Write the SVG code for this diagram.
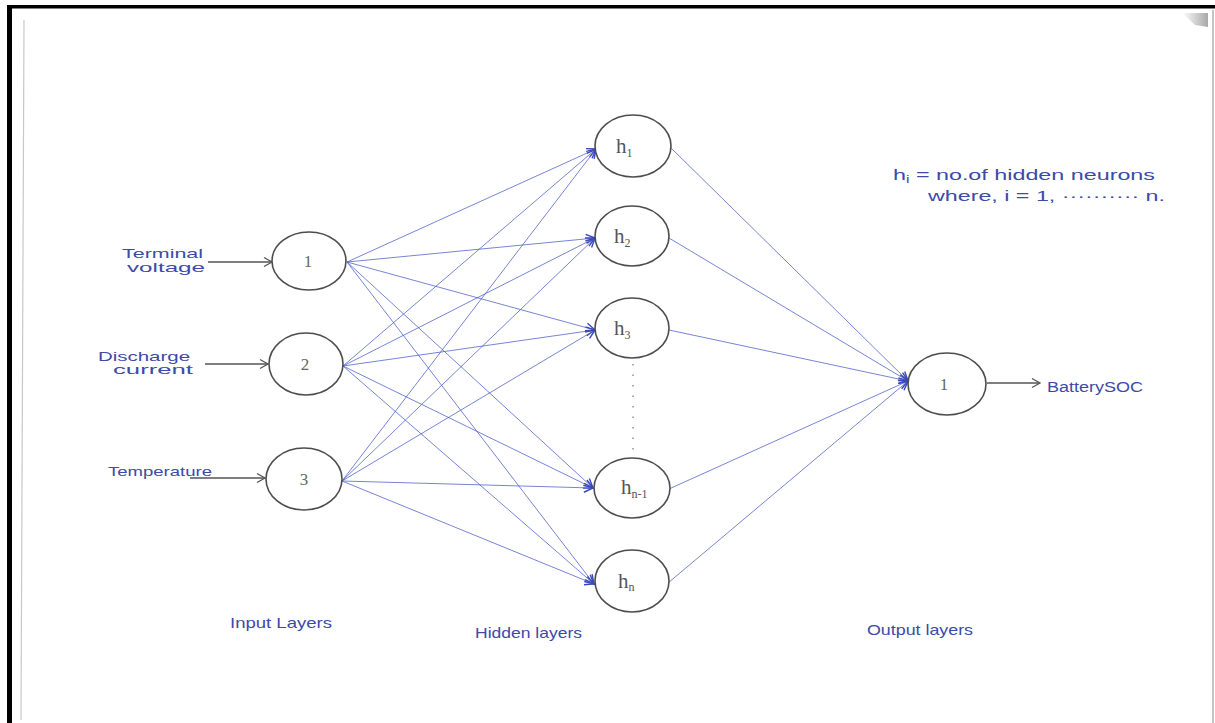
<svg xmlns="http://www.w3.org/2000/svg" width="1215" height="723" viewBox="0 0 1215 723">
  <defs>
    <style>
      .node { fill: #ffffff; stroke: #4d4d4d; stroke-width: 1.6; }
      .num { font-family: "Liberation Serif", serif; font-size: 17px; fill: #666; text-anchor: middle; }
      .hl { font-family: "Liberation Serif", serif; font-size: 21px; fill: #555; }
      .sub { font-size: 12px; }
      .hand { font-family: "Liberation Sans", sans-serif; fill: #3c4aa8; }
      .wire { stroke: #4a5cc4; stroke-width: 1; fill: none; stroke-opacity: 0.75; marker-end: url(#blueHead); }
      .feed { stroke: #555; stroke-width: 1.3; fill: none; marker-end: url(#grayHead); }
    </style>
    <marker id="blueHead" markerUnits="userSpaceOnUse" markerWidth="12" markerHeight="12" refX="10" refY="5" orient="auto" overflow="visible">
      <path d="M1,0.5 L10,5 L1,9.5" fill="none" stroke="#3a48b8" stroke-width="1.4"/>
    </marker>
    <marker id="grayHead" markerUnits="userSpaceOnUse" markerWidth="12" markerHeight="12" refX="10" refY="5" orient="auto" overflow="visible">
      <path d="M2,0.5 L10,5 L2,9.5" fill="none" stroke="#555" stroke-width="1.3"/>
    </marker>
    <linearGradient id="cornerShade" x1="0" y1="0" x2="1" y2="0">
      <stop offset="0" stop-color="#fff"/>
      <stop offset="1" stop-color="#a8a8a8"/>
    </linearGradient>
  </defs>

  <!-- page and frame -->
  <rect x="0" y="0" width="1215" height="723" fill="#ffffff"/>
  <rect x="7" y="5" width="1208" height="3.5" fill="#000"/>
  <rect x="7" y="5" width="5" height="718" fill="#000"/>
  <line x1="24" y1="20" x2="21" y2="720" stroke="#c8c8c8" stroke-width="1.2"/>
  <line x1="1213" y1="10" x2="1213" y2="723" stroke="#9a9a9a" stroke-width="1.2"/>
  <polygon points="1182,13 1208,13 1208,27 1195,25" fill="url(#cornerShade)"/>

  <!-- connectors -->
  <g id="connectors">
    <!-- inputs into input nodes -->
    <line class="feed" x1="208" y1="262" x2="272" y2="262"/>
    <line class="feed" x1="205" y1="364" x2="268" y2="364"/>
    <line class="feed" x1="190" y1="478" x2="265" y2="478"/>

    <!-- input node 1 to hidden -->
    <line class="wire" x1="347" y1="262" x2="596" y2="149"/>
    <line class="wire" x1="347" y1="262" x2="595" y2="238"/>
    <line class="wire" x1="347" y1="262" x2="595" y2="330"/>
    <line class="wire" x1="347" y1="262" x2="593" y2="488"/>
    <line class="wire" x1="347" y1="262" x2="594" y2="584"/>
    <!-- input node 2 to hidden -->
    <line class="wire" x1="343" y1="366" x2="596" y2="149"/>
    <line class="wire" x1="343" y1="366" x2="595" y2="238"/>
    <line class="wire" x1="343" y1="366" x2="595" y2="330"/>
    <line class="wire" x1="343" y1="366" x2="593" y2="488"/>
    <line class="wire" x1="343" y1="366" x2="594" y2="584"/>
    <!-- input node 3 to hidden -->
    <line class="wire" x1="342" y1="481" x2="596" y2="149"/>
    <line class="wire" x1="342" y1="481" x2="595" y2="238"/>
    <line class="wire" x1="342" y1="481" x2="595" y2="330"/>
    <line class="wire" x1="342" y1="481" x2="593" y2="488"/>
    <line class="wire" x1="342" y1="481" x2="594" y2="584"/>

    <!-- hidden to output -->
    <line class="wire" x1="670" y1="147" x2="908" y2="381" stroke-opacity="0.95"/>
    <line class="wire" x1="669" y1="238" x2="908" y2="381" stroke-opacity="0.3"/>
    <line class="wire" x1="669" y1="330" x2="908" y2="381" stroke-opacity="0.6"/>
    <line class="wire" x1="669" y1="489" x2="908" y2="381" stroke-opacity="0.6"/>
    <line class="wire" x1="668" y1="583" x2="908" y2="381" stroke-opacity="0.6"/>

    <!-- output -->
    <line class="feed" x1="987" y1="383" x2="1040" y2="383"/>

    <!-- ellipsis between h3 and h(n-1) -->
    <line x1="633" y1="364" x2="633" y2="452" stroke="#777" stroke-width="1.2" stroke-dasharray="1.5 9"/>
  </g>

  <!-- input layer -->
  <g id="input-1">
    <ellipse class="node" cx="309" cy="261" rx="37" ry="29"/>
    <text class="num" x="308" y="267">1</text>
  </g>
  <g id="input-2">
    <ellipse class="node" cx="306" cy="364" rx="37" ry="31"/>
    <text class="num" x="305" y="370">2</text>
  </g>
  <g id="input-3">
    <ellipse class="node" cx="304" cy="479" rx="38" ry="31"/>
    <text class="num" x="304" y="485">3</text>
  </g>

  <!-- hidden layer -->
  <g id="hidden-1">
    <ellipse class="node" cx="633" cy="146" rx="38" ry="31"/>
    <text class="hl" x="616" y="153">h<tspan class="sub" dy="4">1</tspan></text>
  </g>
  <g id="hidden-2">
    <ellipse class="node" cx="632" cy="236" rx="37" ry="30"/>
    <text class="hl" x="614" y="243">h<tspan class="sub" dy="4">2</tspan></text>
  </g>
  <g id="hidden-3">
    <ellipse class="node" cx="632" cy="328" rx="37" ry="30"/>
    <text class="hl" x="614" y="335">h<tspan class="sub" dy="4">3</tspan></text>
  </g>
  <g id="hidden-n-1">
    <ellipse class="node" cx="632" cy="488" rx="38" ry="30"/>
    <text class="hl" x="621" y="494">h<tspan class="sub" dy="4">n-1</tspan></text>
  </g>
  <g id="hidden-n">
    <ellipse class="node" cx="632" cy="581" rx="37" ry="31"/>
    <text class="hl" x="618" y="588">h<tspan class="sub" dy="3">n</tspan></text>
  </g>

  <!-- output layer -->
  <g id="output-1">
    <ellipse class="node" cx="947" cy="384" rx="39" ry="31"/>
    <text class="num" x="944" y="390">1</text>
  </g>

  <!-- input and output names -->
  <g id="labels" class="hand">
    <text x="122" y="258" font-size="13" textLength="81" lengthAdjust="spacingAndGlyphs">Terminal</text>
    <text x="127" y="272" font-size="13" textLength="78" lengthAdjust="spacingAndGlyphs">voltage</text>
    <text x="98" y="361" font-size="13" textLength="92" lengthAdjust="spacingAndGlyphs">Discharge</text>
    <text x="113" y="374" font-size="13" textLength="80" lengthAdjust="spacingAndGlyphs">current</text>
    <text x="108" y="476" font-size="13" textLength="104" lengthAdjust="spacingAndGlyphs">Temperature</text>
    <text x="1047" y="392" font-size="14" textLength="96" lengthAdjust="spacingAndGlyphs">BatterySOC</text>

    <text x="230" y="628" font-size="15" textLength="102" lengthAdjust="spacingAndGlyphs">Input Layers</text>
    <text x="475" y="638" font-size="15" textLength="107" lengthAdjust="spacingAndGlyphs">Hidden layers</text>
    <text x="867" y="635" font-size="15" textLength="106" lengthAdjust="spacingAndGlyphs">Output layers</text>

    <text x="893" y="180" font-size="15" textLength="262" lengthAdjust="spacingAndGlyphs">h<tspan font-size="10" dy="3">i</tspan><tspan dy="-3"> = no.of hidden neurons</tspan></text>
    <text x="928" y="201" font-size="15" textLength="237" lengthAdjust="spacingAndGlyphs">where, i = 1, ·········· n.</text>
  </g>
</svg>
